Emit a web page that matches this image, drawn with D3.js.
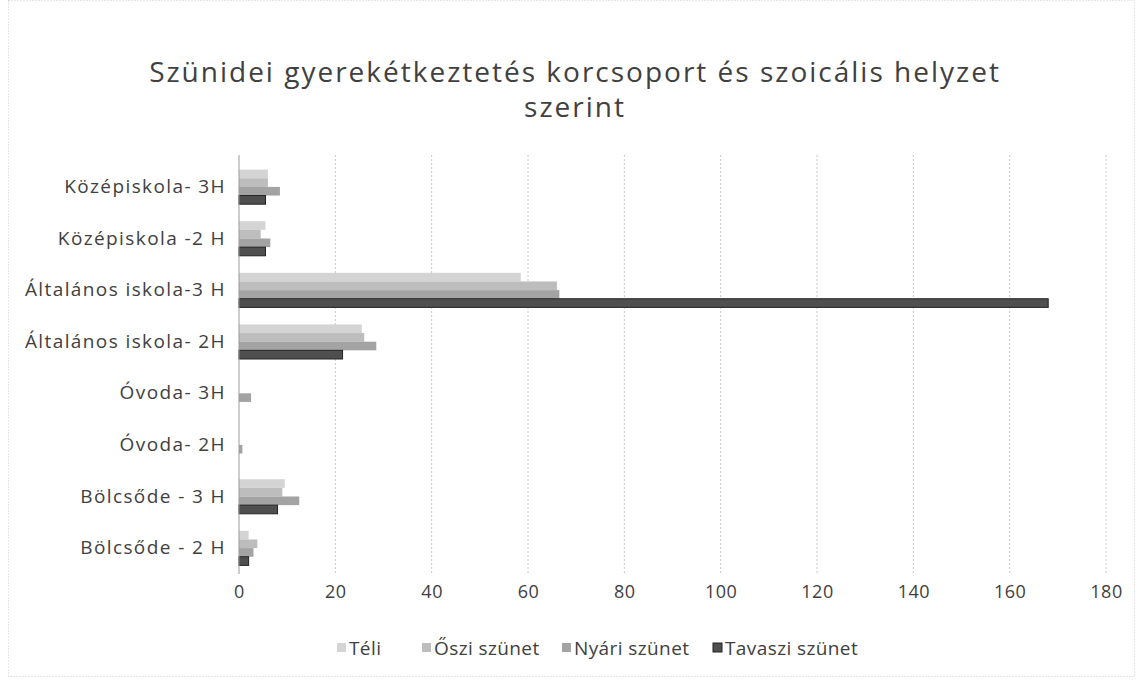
<!DOCTYPE html>
<html lang="hu">
<head>
<meta charset="utf-8">
<title>Szünidei gyerekétkeztetés</title>
<script src="https://d3js.org/d3.v7.min.js"></script>
<style>
  body { margin: 0; background: #fff; }
  text { font-family: "Open Sans", "Noto Sans", sans-serif; fill: #404040; }
</style>
</head>
<body>
<div id="chart"></div>
<script>
// categories top to bottom
var categories = ["Középiskola- 3H", "Középiskola -2 H", "Általános iskola-3 H", "Általános iskola- 2H",
  "Óvoda- 3H", "Óvoda- 2H", "Bölcsőde - 3 H", "Bölcsőde - 2 H"]
var seriesNames = ["Téli", "Őszi szünet", "Nyári szünet", "Tavaszi szünet"]
var teli     = [6, 5.5, 58.5, 25.5, 0, 0, 9.5, 2]
var oszi     = [6, 4.5, 66, 26, 0, 0, 9, 3.8]
var nyari    = [8.5, 6.5, 66.5, 28.5, 2.5, 0.7, 12.5, 3]
var tavaszi  = [5.5, 5.5, 168, 21.5, 0, 0, 8, 2]
var xTicks = [0, 20, 40, 60, 80, 100, 120, 140, 160, 180]

var values = [teli, oszi, nyari, tavaszi]
var colors = ["#d4d4d4", "#bdbdbd", "#a3a3a3", "#4f4f4f"]
var strokes = ["none", "none", "none", "#222"]

var w = 1142, h = 680
var plotLeft = 239, plotRight = 1106, plotTop = 161, plotBottom = 574

var svg = d3.select("#chart").append("svg").attr("width", w).attr("height", h)

svg.append("rect").attr("x", 8.5).attr("y", 0.5).attr("width", 1126).attr("height", 676)
  .attr("fill", "none").attr("stroke", "#ccc").attr("stroke-dasharray", "1,2")

var x = d3.scaleLinear().domain([0, 180]).range([plotLeft, plotRight])
var y = d3.scaleBand().domain(categories).range([plotTop, plotBottom]).paddingInner(0.33).paddingOuter(0.167)
var ySub = d3.scaleBand().domain(d3.range(4)).range([0, y.bandwidth()])

// gridlines
svg.append("g").selectAll("line").data(xTicks.slice(1)).enter().append("line")
  .attr("x1", function(d) { return x(d) }).attr("x2", function(d) { return x(d) })
  .attr("y1", 155).attr("y2", plotBottom)
  .attr("stroke", "#c8c8c8").attr("stroke-dasharray", "2,2")

// bars
var groups = svg.append("g").selectAll("g").data(categories).enter().append("g")
  .attr("transform", function(d) { return "translate(0," + y(d) + ")" })
groups.selectAll("rect").data(function(d, i) { return values.map(function(s, k) { return {k: k, v: s[i]} }) })
  .enter().filter(function(d) { return d.v > 0 }).append("rect")
  .attr("x", x(0)).attr("y", function(d) { return ySub(d.k) })
  .attr("width", function(d) { return x(d.v) - x(0) }).attr("height", ySub.bandwidth())
  .attr("fill", function(d) { return colors[d.k] })
  .attr("stroke", function(d) { return strokes[d.k] }).attr("stroke-width", 1)

// vertical axis line
svg.append("line").attr("x1", plotLeft).attr("x2", plotLeft).attr("y1", 155).attr("y2", plotBottom)
  .attr("stroke", "#9a9a9a")

// category labels
var yAxis = d3.axisLeft(y).tickSize(0).tickPadding(13)
var ya = svg.append("g").attr("transform", "translate(" + plotLeft + ",0)").call(yAxis)
ya.select(".domain").remove()
ya.selectAll("text").style("font-size", "19px").style("letter-spacing", "1.4px").attr("fill", "#404040")
  .style("font-family", "'Open Sans', sans-serif")

// x tick labels
var xAxis = d3.axisBottom(x).tickValues(xTicks).tickSize(0).tickPadding(11)
var xa = svg.append("g").attr("transform", "translate(0," + plotBottom + ")").call(xAxis)
xa.select(".domain").remove()
xa.selectAll("text").style("font-size", "18px").style("letter-spacing", "0.5px").attr("fill", "#404040")
  .style("font-family", "'Open Sans', sans-serif")

// title
svg.append("text").attr("x", 575).attr("y", 82).attr("text-anchor", "middle")
  .style("font-size", "28px").style("letter-spacing", "2px")
  .text("Szünidei gyerekétkeztetés korcsoport és szoicális helyzet")
svg.append("text").attr("x", 575).attr("y", 117).attr("text-anchor", "middle")
  .style("font-size", "28px").style("letter-spacing", "2px").text("szerint")

// legend
var legendX = [337, 422, 562, 713]
var lg = svg.append("g").selectAll("g").data(seriesNames).enter().append("g")
  .attr("transform", function(d, i) { return "translate(" + legendX[i] + ",648)" })
lg.append("rect").attr("x", 0).attr("y", -5).attr("width", 9).attr("height", 9)
  .attr("fill", function(d, i) { return colors[i] })
  .attr("stroke", function(d, i) { return strokes[i] })
lg.append("text").attr("x", 12).attr("y", 7).style("font-size", "19px").style("letter-spacing", "0.4px")
  .text(function(d) { return d })
</script>
</body>
</html>
